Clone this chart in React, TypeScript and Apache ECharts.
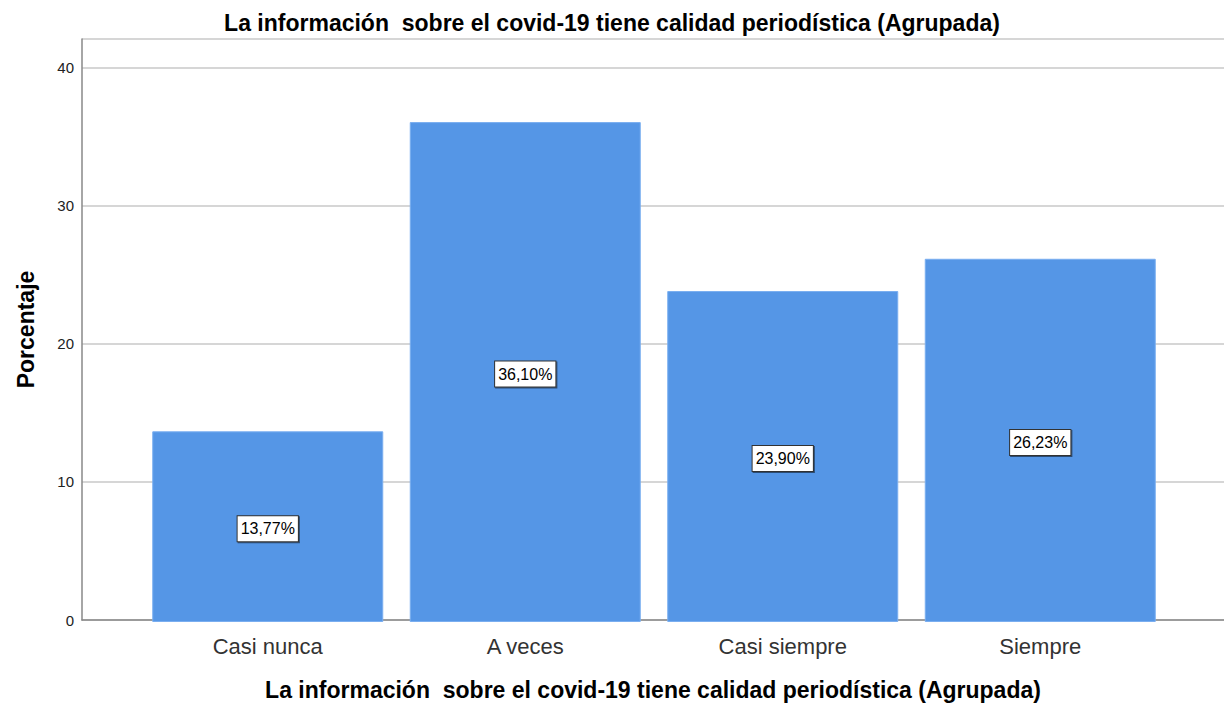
import React, { useEffect, useRef } from "react";
import * as echarts from "echarts";

const categories = ["Casi nunca", "A veces", "Casi siempre", "Siempre"];
const percentages = [13.77, 36.1, 23.9, 26.23];
const yTicks = [0, 10, 20, 30, 40];
const titleText = "La información  sobre el covid-19 tiene calidad periodística (Agrupada)";
const yName = "Porcentaje";

export default function App() {
  const ref = useRef<HTMLDivElement>(null);
  useEffect(() => {
    if (!ref.current) return;
    const chart = echarts.init(ref.current, undefined, { renderer: "svg" });
    const font = "Liberation Sans, Arial, sans-serif";
    const yMax = 42.1;
    chart.setOption({
      animation: false,
      backgroundColor: "#ffffff",
      title: {
        text: titleText,
        left: "center",
        top: 6,
        textStyle: { fontFamily: font, fontSize: 23, fontWeight: "bold", color: "#000" },
      },
      grid: [
        { left: 82, right: 0, top: 39, bottom: 84 },
        { left: 139, right: 55, top: 39, bottom: 84 },
      ],
      xAxis: [
        {
          gridIndex: 0,
          type: "value",
          min: 0,
          max: 1,
          axisLine: { show: true, onZero: false, lineStyle: { color: "#888", width: 1.5 } },
          axisTick: { show: false },
          axisLabel: { show: false },
          splitLine: { show: false },
          name: titleText,
          nameLocation: "middle",
          nameGap: 58,
          nameTextStyle: { fontFamily: font, fontSize: 23, fontWeight: "bold", color: "#000" },
        },
        {
          gridIndex: 1,
          type: "category",
          data: categories,
          axisLine: { show: false },
          axisTick: { show: false },
          axisLabel: { fontFamily: font, fontSize: 22, color: "#333", margin: 13 },
        },
      ],
      yAxis: [
        {
          gridIndex: 0,
          type: "value",
          min: 0,
          max: yMax,
          interval: 10,
          axisLine: { show: true, lineStyle: { color: "#888", width: 1.5 } },
          axisTick: { show: false },
          axisLabel: {
            fontFamily: font,
            fontSize: 15,
            color: "#222",
            margin: 8,
            formatter: (v: number) => (yTicks.includes(v) ? String(v) : ""),
          },
          splitLine: { show: true, lineStyle: { color: "#c8c8c8", width: 1.5 } },
          name: yName,
          nameLocation: "middle",
          nameGap: 45,
          nameTextStyle: { fontFamily: font, fontSize: 23, fontWeight: "bold", color: "#000" },
        },
        {
          gridIndex: 1,
          type: "value",
          min: 0,
          max: yMax,
          show: false,
          splitLine: { show: false },
        },
      ],
      series: [
        {
          type: "bar",
          xAxisIndex: 1,
          yAxisIndex: 1,
          data: percentages,
          barWidth: 231,
          itemStyle: { color: "#5596e6", borderColor: "#7aaef0", borderWidth: 1 },
          label: {
            show: true,
            position: "inside",
            offset: [0, 2],
            formatter: (p: any) => p.value.toFixed(2).replace(".", ",") + "%",
            fontFamily: font,
            fontSize: 16,
            color: "#000",
            backgroundColor: "#ffffff",
            borderColor: "#333",
            borderWidth: 1,
            padding: [5, 3, 4, 3],
            shadowColor: "rgba(0,0,0,0.5)",
            shadowOffsetX: 1,
            shadowOffsetY: 1,
            shadowBlur: 0,
          },
        },
      ],
    });
    return () => chart.dispose();
  }, []);
  return (
    <div
      ref={ref}
      style={{ position: "fixed", left: 0, top: 0, width: 1224, height: 706, background: "#fff" }}
    />
  );
}
